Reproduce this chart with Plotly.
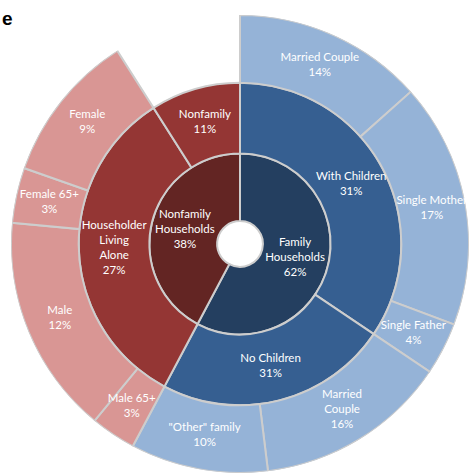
import plotly.graph_objects as go

# ---------------- data ----------------
# inner ring (household type)
inner_labels = ["Family<br>Households", "Nonfamily<br>Households"]
inner_pct = ["62%", "38%"]

# middle ring (sub-type); parent index into inner ring
mid_labels = ["With Children", "No Children", "Householder<br>Living<br>Alone", "Nonfamily"]
mid_pct = ["31%", "31%", "27%", "11%"]
mid_parent = [0, 0, 1, 1]
mid_share = [34.4, 23.3, 33.2, 9.0]   # drawn share of the circle (%)

# outer ring (detail); parent index into middle ring
outer_labels = ["Married Couple", "Single Mother", "Single Father",
                "Married<br>Couple", "\"Other\" family",
                "Male 65+", "Male", "Female 65+", "Female"]
outer_pct = ["14%", "17%", "4%", "16%", "10%", "3%", "12%", "3%", "9%"]
outer_parent = [0, 0, 0, 1, 1, 2, 2, 2, 2]
outer_share = [13.4, 17.3, 3.7, 13.6, 9.7, 3.2, 15.5, 3.9, 10.6]

# ---------------- styling ----------------
inner_colors = ["#243F60", "#632523"]
mid_colors = ["#365F91", "#365F91", "#943634", "#943634"]
outer_colors = ["#95B3D7"] * 5 + ["#D99694"] * 4
R = [23, 91, 162, 230]          # ring boundaries (radial units)
line_col = "#CDCDCD"
font = dict(family="Lato, 'Open Sans', sans-serif", size=11.5, color="white")

# ---------------- geometry from data ----------------
total = sum(mid_share)
deg = 360.0 / total

mid_start, mid_w = [], []
acc = 0.0
for s in mid_share:
    mid_start.append(acc * deg)
    mid_w.append(s * deg)
    acc += s

inner_start, inner_w = [], []
for i in range(len(inner_labels)):
    idx = [j for j, p in enumerate(mid_parent) if p == i]
    inner_start.append(mid_start[idx[0]])
    inner_w.append(sum(mid_w[j] for j in idx))

outer_start, outer_w = [], []
cursor = {}
for k, (s, p) in enumerate(zip(outer_share, outer_parent)):
    st = cursor.get(p, mid_start[p])
    outer_start.append(st)
    outer_w.append(s * deg)
    cursor[p] = st + s * deg

rings = [
    ("inner", inner_labels, inner_pct, inner_start, inner_w, inner_colors, R[0], R[1]),
    ("mid", mid_labels, mid_pct, mid_start, mid_w, mid_colors, R[1], R[2]),
    ("outer", outer_labels, outer_pct, outer_start, outer_w, outer_colors, R[2], R[3]),
]

fig = go.Figure()
for name, labels, pcts, starts, widths, colors, r0, r1 in rings:
    centers = [s + w / 2 for s, w in zip(starts, widths)]
    fig.add_trace(go.Barpolar(
        theta=centers, width=widths, base=[r0] * len(centers),
        r=[r1 - r0] * len(centers),
        marker=dict(color=colors, line=dict(color=line_col, width=2)),
        hoverinfo="skip", showlegend=False,
    ))

for name, labels, pcts, starts, widths, colors, r0, r1 in rings:
    th = [s + w / 2 for s, w in zip(starts, widths)]
    rr = [(r0 + r1) / 2] * len(th)
    tx = [f"{lab}<br>{pc}" for lab, pc in zip(labels, pcts)]
    fig.add_trace(go.Scatterpolar(
        theta=th, r=rr, text=tx, mode="text", textfont=font,
        textposition="middle center", hoverinfo="skip", showlegend=False,
        cliponaxis=False,
    ))

fig.update_layout(
    width=470, height=473,
    margin=dict(l=0, r=0, t=0, b=0),
    paper_bgcolor="white",
    polar=dict(
        domain=dict(x=[10 / 470, 1], y=[0, 458 / 473]),
        bgcolor="white",
        bargap=0,
        radialaxis=dict(range=[0, R[3]], visible=False, showgrid=False),
        angularaxis=dict(direction="clockwise", rotation=90, visible=False,
                         showgrid=False),
    ),
    annotations=[dict(text="<b>e</b>", xref="paper", yref="paper",
                      x=0.0, y=1 - 6 / 473, xanchor="left", yanchor="top",
                      showarrow=False,
                      font=dict(family="Liberation Sans, Arial", size=19, color="black"))],
)

fig.write_html("out.html")
